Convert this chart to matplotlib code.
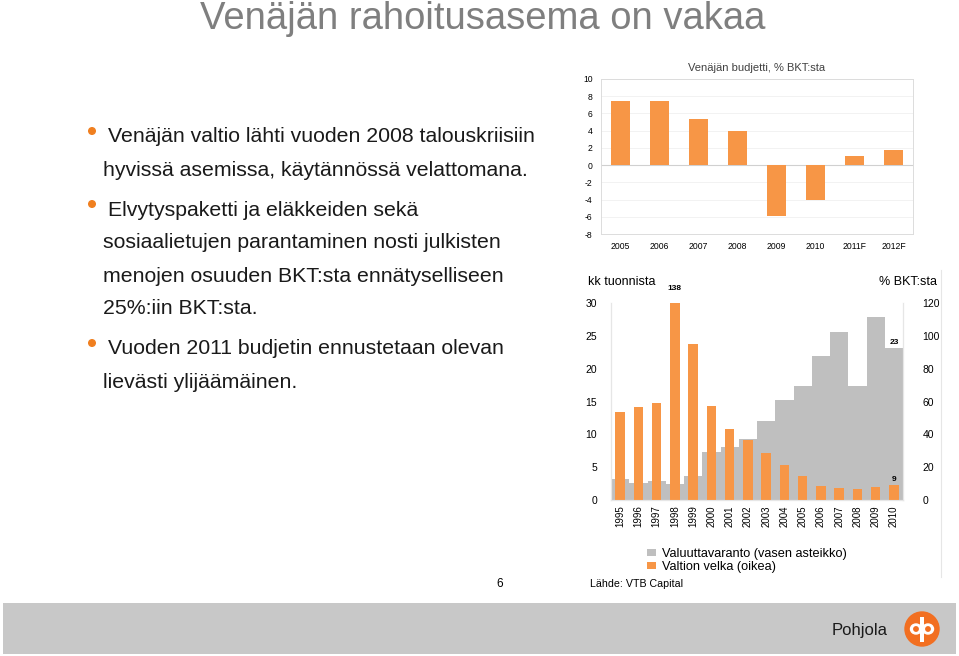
import matplotlib
matplotlib.use("Agg")
import matplotlib.pyplot as plt
from matplotlib.patches import Rectangle, Circle, Ellipse

plt.rcParams['font.family'] = ['Liberation Sans', 'DejaVu Sans']
plt.rcParams['axes.unicode_minus'] = False

# --- data ---
budget_years = ['2005', '2006', '2007', '2008', '2009', '2010', '2011F', '2012F']
budget_pct = [7.5, 7.4, 5.4, 4.0, -5.9, -4.0, 1.1, 1.7]

years = ['1995', '1996', '1997', '1998', '1999', '2000', '2001', '2002',
         '2003', '2004', '2005', '2006', '2007', '2008', '2009', '2010']
reserves_months = [3.2, 2.6, 2.9, 2.5, 3.7, 7.3, 8.1, 9.3,
                   12.1, 15.3, 17.3, 22.0, 25.6, 17.4, 27.9, 23.1]
debt_pct = [53.6, 56.4, 58.8, 138, 95.2, 57.2, 43.2, 36.8,
            28.4, 21.6, 14.4, 8.4, 7.2, 6.4, 8.0, 9.0]

bullets = [
    ["Venäjän valtio lähti vuoden 2008 talouskriisiin",
     "hyvissä asemissa, käytännössä velattomana."],
    ["Elvytyspaketti ja eläkkeiden sekä",
     "sosiaalietujen parantaminen nosti julkisten",
     "menojen osuuden BKT:sta ennätyselliseen",
     "25%:iin BKT:sta."],
    ["Vuoden 2011 budjetin ennustetaan olevan",
     "lievästi ylijäämäinen."],
]
bullet_y = [[137, 170], [210, 243, 276, 308], [349, 382]]

ORANGE = '#f79646'
GRAY = '#bfbfbf'
W, H = 959, 656

fig = plt.figure(figsize=(W / 100, H / 100), dpi=100)

def fx(px):
    return px / W

def fy(py):
    return 1 - py / H

# overlay axes in pixel coords for slide decoration
bg = fig.add_axes([0, 0, 1, 1])
bg.set_xlim(0, W)
bg.set_ylim(H, 0)
bg.axis('off')

bg.text(200, 29, "Venäjän rahoitusasema on vakaa", fontsize=27.5, color='#7f7f7f',
        va='baseline', ha='left')

for lines, ys in zip(bullets, bullet_y):
    bg.add_patch(Circle((92, ys[0] - 6), 3.3, color='#f07f1f'))
    for i, (line, y) in enumerate(zip(lines, ys)):
        bg.text(108 if i == 0 else 103, y, line, fontsize=15.3, color='#1a1a1a',
                va='center', ha='left')

# footer
bg.add_patch(Rectangle((3, 603), 953, 51, color='#c8c8c8', lw=0))
bg.text(832, 631, "Pohjola", fontsize=12, color='#1a1a1a', va='center', ha='left')
bg.add_patch(Circle((922, 629), 17, color='#f26f21'))
bg.add_patch(Ellipse((916, 629), 11, 10, color='white'))
bg.add_patch(Ellipse((928, 629), 11, 10, color='white'))
bg.add_patch(Rectangle((920, 617), 4, 25, color='white', lw=0))
bg.add_patch(Circle((916, 629), 2.2, color='#f26f21'))
bg.add_patch(Circle((928, 629), 2.2, color='#f26f21'))

bg.text(500, 584, "6", fontsize=8.5, va='center', ha='center')
bg.text(590, 584, "Lähde: VTB Capital", fontsize=7.7, va='center', ha='left')
bg.plot([941, 941], [270, 577], color='#e6e6e6', lw=0.8)

# --- top chart: budget balance ---
ax1 = fig.add_axes([fx(601), fy(234), fx(312), 155 / H])
x1 = range(len(budget_years))
ax1.bar(x1, budget_pct, width=0.5, color=ORANGE, zorder=3)
ax1.set_xlim(-0.5, len(budget_years) - 0.5)
ax1.set_ylim(-8, 10)
ax1.set_yticks(range(-8, 11, 2))
ax1.set_xticks(list(x1))
ax1.set_xticklabels(budget_years)
ax1.tick_params(length=0, labelsize=6.2, pad=6)
ax1.grid(axis='y', color='#f0f0f0', lw=0.6, zorder=0)
ax1.axhline(0, color='#d0d0d0', lw=0.8, zorder=2)
for s in ax1.spines.values():
    s.set_color('#dcdcdc')
    s.set_linewidth(0.7)
ax1.set_title("Venäjän budjetti, % BKT:sta", fontsize=8, color='#404040', pad=6)

# --- bottom chart: reserves and state debt ---
ax2 = fig.add_axes([fx(611), fy(500), fx(292), 197 / H])
x2 = range(len(years))
g = ax2.bar(x2, reserves_months, width=1.0, color=GRAY,
            label="Valuuttavaranto (vasen asteikko)")
ax2.set_xlim(-0.5, len(years) - 0.5)
ax2.set_ylim(0, 30)
ax2.set_yticks(range(0, 31, 5))
ax2.set_xticks(list(x2))
ax2.set_xticklabels(years, rotation=90)
ax2.tick_params(length=0, labelsize=7.5, pad=10)
ax2.tick_params(axis='x', labelsize=7, pad=4)

ax3 = ax2.twinx()
o = ax3.bar(x2, debt_pct, width=0.52, color=ORANGE, label="Valtion velka (oikea)")
ax3.set_ylim(0, 120)
ax3.set_yticks(range(0, 121, 20))
ax3.tick_params(length=0, labelsize=7.5, pad=14)
for a in (ax2, ax3):
    for k, s in a.spines.items():
        s.set_color('#e6e6e6')
        s.set_linewidth(0.8)
        if k == 'top':
            s.set_visible(False)

# value labels
ax3.annotate(f"{debt_pct[3]:.0f}", (3, 120), xytext=(0, 9), textcoords='offset points',
             ha='center', fontsize=6, fontweight='bold')
ax3.annotate(f"{debt_pct[-1]:.0f}", (15, debt_pct[-1]), xytext=(0, 3),
             textcoords='offset points', ha='center', fontsize=6, fontweight='bold')
ax2.annotate(f"{reserves_months[-1]:.0f}", (15, reserves_months[-1]), xytext=(0, 3),
             textcoords='offset points', ha='center', fontsize=6, fontweight='bold')

fig.text(fx(588), fy(282), "kk tuonnista", fontsize=9, va='center', ha='left')
fig.text(fx(937), fy(282), "% BKT:sta", fontsize=9, va='center', ha='right')

fig.legend(handles=[g, o], loc='upper left', bbox_to_anchor=(fx(647), fy(548)),
           frameon=False, fontsize=9.2, handlelength=0.7, handleheight=0.5,
           handletextpad=0.5, labelspacing=0.08, borderaxespad=0, borderpad=0)

fig.savefig("out.png", dpi=100)
